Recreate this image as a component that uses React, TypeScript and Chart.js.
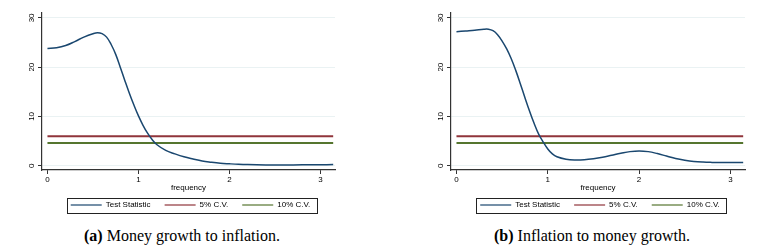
import React, { useEffect, useRef } from 'react';
import { Chart, registerables } from 'chart.js';

Chart.register(...registerables);

// ---- data ----
const freqA = [0, 0.1, 0.2, 0.3, 0.4, 0.5, 0.55, 0.6, 0.65, 0.7, 0.75, 0.8, 0.85, 0.9, 0.95, 1.0, 1.05, 1.1, 1.15, 1.2, 1.3, 1.4, 1.5, 1.6, 1.7, 1.8, 1.9, 2.0, 2.1, 2.2, 2.4, 2.6, 2.8, 3.0, 3.14];
const statA = [23.8, 23.95, 24.4, 25.2, 26.1, 26.8, 27.0, 26.8, 26.1, 24.6, 22.6, 20.0, 17.3, 14.7, 12.3, 10.1, 8.2, 6.6, 5.3, 4.3, 3.1, 2.4, 1.8, 1.35, 0.95, 0.7, 0.5, 0.38, 0.28, 0.22, 0.16, 0.15, 0.17, 0.2, 0.22];

const freqB = [0, 0.1, 0.2, 0.3, 0.35, 0.4, 0.45, 0.5, 0.55, 0.6, 0.65, 0.7, 0.75, 0.8, 0.85, 0.9, 0.95, 1.0, 1.05, 1.1, 1.2, 1.3, 1.4, 1.5, 1.6, 1.7, 1.8, 1.9, 2.0, 2.1, 2.2, 2.3, 2.4, 2.5, 2.6, 2.7, 2.8, 2.9, 3.0, 3.14];
const statB = [27.2, 27.35, 27.5, 27.7, 27.7, 27.4, 26.6, 25.3, 23.7, 21.7, 19.3, 16.6, 13.8, 11.1, 8.6, 6.4, 4.8, 3.4, 2.4, 1.8, 1.3, 1.15, 1.2, 1.4, 1.7, 2.1, 2.5, 2.85, 3.0, 2.85, 2.45, 1.95, 1.45, 1.1, 0.85, 0.72, 0.66, 0.63, 0.62, 0.62];

const cv5 = 5.99;
const cv10 = 4.61;

const xTicks = [0, 1, 2, 3];
const yTicks = [0, 10, 20, 30];
const seriesLabels = ['Test Statistic', '5% C.V.', '10% C.V.'];
const xTitle = 'frequency';

const NAVY = '#1a476f';
const MAROON = '#90353b';
const GREEN = '#55752f';
const GRID = '#eaf2f3';
const AXIS = '#333333';
const FONT = '"Liberation Sans", Arial, Helvetica, sans-serif';

const legendBorder = {
  id: 'legendBorder',
  afterDraw(chart: any) {
    const lg = chart.legend;
    if (!lg || !lg.legendHitBoxes || !lg.legendHitBoxes.length) return;
    const hb = lg.legendHitBoxes;
    const first = hb[0];
    const last = hb[hb.length - 1];
    const x0 = first.left - 4;
    const x1 = last.left + last.width + 6;
    const cy = first.top + first.height / 2;
    const ctx = chart.ctx;
    ctx.save();
    ctx.strokeStyle = '#222';
    ctx.lineWidth = 1;
    ctx.strokeRect(Math.round(x0) + 0.5, Math.round(cy - 7.5) + 0.5, Math.round(x1 - x0), 15);
    ctx.restore();
  },
};

type PanelProps = {
  freq: number[];
  stat: number[];
  left: number;
  width: number;
  yAxisWidth: number;
  rightPad: number;
};

function Panel({ freq, stat, left, width, yAxisWidth, rightPad }: PanelProps) {
  const ref = useRef<HTMLCanvasElement | null>(null);
  useEffect(() => {
    if (!ref.current) return;
    const x0 = freq[0];
    const x1 = freq[freq.length - 1];
    const chart = new Chart(ref.current, {
      type: 'line',
      data: {
        datasets: [
          {
            label: seriesLabels[0],
            data: freq.map((x, i) => ({ x, y: stat[i] })),
            borderColor: NAVY,
            backgroundColor: NAVY,
            borderWidth: 1.5,
            pointRadius: 0,
            tension: 0.4,
            fill: false,
          },
          {
            label: seriesLabels[1],
            data: [{ x: x0, y: cv5 }, { x: x1, y: cv5 }],
            borderColor: MAROON,
            backgroundColor: MAROON,
            borderWidth: 2,
            pointRadius: 0,
            fill: false,
          },
          {
            label: seriesLabels[2],
            data: [{ x: x0, y: cv10 }, { x: x1, y: cv10 }],
            borderColor: GREEN,
            backgroundColor: GREEN,
            borderWidth: 2,
            pointRadius: 0,
            fill: false,
          },
        ],
      } as any,
      options: {
        responsive: false,
        animation: false,
        events: [],
        layout: { padding: { top: 13, left: 0, right: 0, bottom: 0 } },
        plugins: {
          tooltip: { enabled: false },
          legend: {
            position: 'bottom',
            labels: {
              usePointStyle: true,
              pointStyle: 'line',
              pointStyleWidth: 31,
              padding: 14,
              color: '#000',
              font: { family: FONT, size: 8 },
              generateLabels: (c: any) =>
                Chart.defaults.plugins.legend.labels
                  .generateLabels(c)
                  .map((l: any) => ({ ...l, lineWidth: 1.2 })),
            },
          },
        },
        scales: {
          x: {
            type: 'linear',
            min: -0.06,
            max: 3.16,
            afterBuildTicks: (s: any) => {
              s.ticks = xTicks.map((v) => ({ value: v }));
            },
            afterFit: (s: any) => {
              s.height = 17;
            },
            grid: { drawOnChartArea: false, drawTicks: true, tickLength: 4, tickColor: AXIS, tickWidth: 1 },
            border: { color: AXIS, width: 1.2 },
            ticks: { color: '#000', font: { family: FONT, size: 8 }, padding: 1, maxRotation: 0 },
            title: {
              display: true,
              text: xTitle,
              color: '#000',
              font: { family: FONT, size: 8 },
              padding: { top: 0, bottom: -6 },
            },
          },
          y: {
            type: 'linear',
            min: -0.88,
            max: 31,
            afterBuildTicks: (s: any) => {
              s.ticks = yTicks.map((v) => ({ value: v }));
            },
            afterFit: (s: any) => {
              s.width = yAxisWidth;
            },
            grid: { color: GRID, lineWidth: 1, drawTicks: true, tickLength: 4, tickColor: AXIS, tickWidth: 1 },
            border: { color: AXIS, width: 1.2 },
            ticks: {
              color: '#000',
              font: { family: FONT, size: 8 },
              minRotation: 90,
              maxRotation: 90,
              crossAlign: 'center',
              padding: 2,
            },
          },
          y2: {
            type: 'linear',
            position: 'right',
            display: true,
            afterFit: (s: any) => {
              s.width = rightPad;
            },
            grid: { display: false },
            border: { display: false },
            ticks: { display: false },
          },
        },
      } as any,
      plugins: [legendBorder],
    });
    return () => chart.destroy();
  }, [freq, stat, yAxisWidth, rightPad]);
  return (
    <canvas
      ref={ref}
      width={width}
      height={219}
      style={{ position: 'absolute', left, top: 0, width, height: 219 }}
    />
  );
}

const captionStyle: React.CSSProperties = {
  position: 'absolute',
  top: 228,
  textAlign: 'center',
  fontFamily: '"Liberation Serif", "Times New Roman", serif',
  fontSize: 16,
  lineHeight: '16px',
  color: '#000',
  whiteSpace: 'nowrap',
};

export default function App() {
  return (
    <div style={{ position: 'absolute', left: 0, top: 0, width: 769, height: 252, background: '#fff', overflow: 'hidden' }}>
      <Panel freq={freqA} stat={statA} left={0} width={381} yAxisWidth={42} rightPad={46} />
      <Panel freq={freqB} stat={statB} left={431} width={338} yAxisWidth={20} rightPad={24} />
      <div style={{ ...captionStyle, left: 0, width: 364 }}>
        <b>(a)</b> Money growth to inflation.
      </div>
      <div style={{ ...captionStyle, left: 415, width: 354 }}>
        <b>(b)</b> Inflation to money growth.
      </div>
    </div>
  );
}
